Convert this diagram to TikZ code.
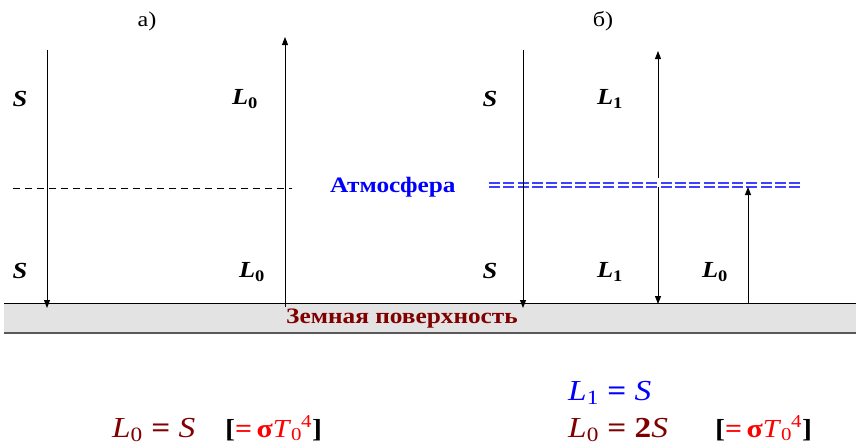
\documentclass[tikz,border=0pt]{standalone}
\usepackage{fontspec}
\setmainfont{Liberation Serif}[FakeStretch=1.15]
\usetikzlibrary{arrows.meta}
\definecolor{earthred}{RGB}{128,0,0}
\definecolor{groundgray}{RGB}{227,227,227}
\newcommand\lsub[1]{\textsubscript{\upshape#1}}
\begin{document}
\begin{tikzpicture}[x=1pt, y=-1pt, >={Triangle[length=8pt,width=6pt]},
	every node/.style={inner sep=0pt},
	flux/.style={line width=0.9pt},
	lbl/.style={font=\fontsize{23}{26}\selectfont\bfseries\itshape},
	eqn/.style={anchor=base west, font=\fontsize{29}{32}\selectfont}]
	\useasboundingbox (0,0) rectangle (856,447);
	% ground
	\fill[groundgray] (4,303) rectangle (856,333);
	\draw[line width=1pt] (4,303) -- (856,303);
	\draw[line width=1.2pt, black!65] (4,333) -- (856,333);
	\node[font=\fontsize{22}{25}\selectfont\bfseries, text=earthred] (ground) at (402,319) {Земная поверхность};
	% a)
	\node[font=\fontsize{21}{24}\selectfont] (capA) at (147,21) {а)};
	\coordinate (aStop) at (47,50);
	\coordinate (aSbot) at (47,308);
	\coordinate (aLbot) at (285,307);
	\coordinate (aLtop) at (285,37);
	\draw[flux, ->] (aStop) -- (aSbot);
	\draw[flux, ->] (aLbot) -- (aLtop);
	\coordinate (aAtmL) at (13,188);
	\coordinate (aAtmR) at (292,188);
	\draw[line width=0.9pt, dash pattern=on 7pt off 5pt] (aAtmL) -- (aAtmR);
	\node[lbl] (aS1) at (20,99) {S};
	\node[lbl] (aL1) at (245,99) {L\lsub{0}};
	\node[lbl] (aS2) at (20,271) {S};
	\node[lbl] (aL2) at (252,272) {L\lsub{0}};
	% atmosphere
	\node[anchor=west, font=\fontsize{22}{25}\selectfont\bfseries, text=blue] (atm) at (330,187) {Атмосфера};
	% b)
	\node[font=\fontsize{21}{24}\selectfont] (capB) at (603,21) {б)};
	\coordinate (bAtmL) at (489,185);
	\coordinate (bAtmR) at (803,185);
	\draw[blue!75, line width=1.1pt, dash pattern=on 11pt off 3.3pt] ([yshift=-2pt]bAtmL) -- ([yshift=-2pt]bAtmR);
	\draw[blue!75, line width=1.1pt, dash pattern=on 11pt off 3.3pt] ([yshift=2pt]bAtmL) -- ([yshift=2pt]bAtmR);
	\coordinate (bStop) at (523,50);
	\coordinate (bSbot) at (523,308);
	\coordinate (bUpA) at (658,178);
	\coordinate (bUpB) at (658,51);
	\coordinate (bDnA) at (658,187);
	\coordinate (bDnB) at (658,304);
	\coordinate (bLbot) at (748,303);
	\coordinate (bLtop) at (748,187);
	\draw[flux, ->] (bStop) -- (bSbot);
	\draw[flux, ->] (bUpA) -- (bUpB);
	\draw[flux, ->] (bDnA) -- (bDnB);
	\draw[flux, ->] (bLbot) -- (bLtop);
	\node[lbl] (bS1) at (490,99) {S};
	\node[lbl] (bL1) at (610,99) {L\lsub{1}};
	\node[lbl] (bS2) at (490,271) {S};
	\node[lbl] (bL2) at (610,272) {L\lsub{1}};
	\node[lbl] (bL0) at (715,272) {L\lsub{0}};
	% balance
	\node[eqn, text=earthred] (eqA) at (112,437) {\textit{L}\lsub{0} \textbf{=} \textit{S}};
	\node[eqn, font=\fontsize{26}{30}\selectfont] (eqAbr) at (225,437) {\textbf{[}\textcolor{red}{\textbf{=}\,\textbf{σ}\textit{T}\lsub{0}\kern-1pt\textsuperscript{4}}\textbf{]}};
	\node[eqn, text=blue] (eqB1) at (568,400) {\textit{L}\lsub{1} \textbf{=} \textit{S}};
	\node[eqn, text=earthred] (eqB2) at (568,437) {\textit{L}\lsub{0} \textbf{= 2}\textit{S}};
	\node[eqn, font=\fontsize{26}{30}\selectfont] (eqBbr) at (715,437) {\textbf{[}\textcolor{red}{\textbf{=}\,\textbf{σ}\textit{T}\lsub{0}\kern-1pt\textsuperscript{4}}\textbf{]}};
\end{tikzpicture}
\end{document}
